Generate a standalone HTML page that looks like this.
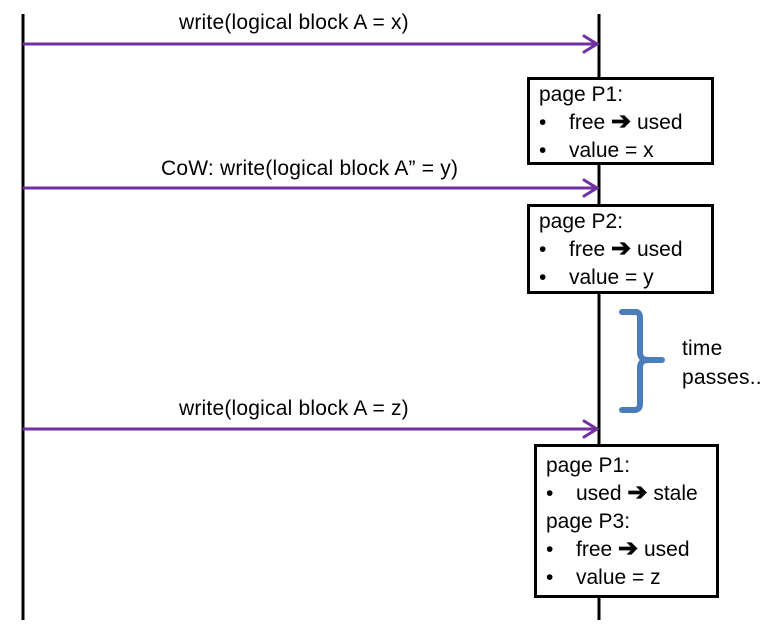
<!DOCTYPE html>
<html><head><style>
body{margin:0;width:762px;height:628px;background:#fff;position:relative;overflow:hidden;font-family:"Liberation Sans",sans-serif;}
svg{position:absolute;left:0;top:0}
.t{position:absolute;font-size:21px;color:#000;white-space:nowrap;letter-spacing:0.2px}
.box{position:absolute;border:3px solid #000;background:#fff;box-sizing:border-box;font-size:21px;line-height:28px;padding:1px 0 0 9px;white-space:nowrap}
.b{display:inline-block;width:30px}
.a{font-size:24px;font-weight:bold;line-height:20px}
</style></head><body>
<svg width="762" height="628">
<line x1="23" y1="14" x2="23" y2="620" stroke="#000" stroke-width="3"/>
<line x1="599" y1="14" x2="599" y2="620" stroke="#000" stroke-width="3"/>
<g stroke="#7030a0" stroke-width="3" fill="none" stroke-linecap="round">
<line x1="24" y1="44" x2="596" y2="44"/><polyline points="584,36 597,44 584,52"/>
<line x1="24" y1="188" x2="596" y2="188"/><polyline points="584,180 597,188 584,196"/>
<line x1="24" y1="429" x2="596" y2="429"/><polyline points="584,421 597,429 584,437"/>
</g>
<path d="M622,312 L636,312 Q640,312 640,318 L640,352 Q640,360 648,360 L662,360 M648,360 Q640,360 640,368 L640,404 Q640,410 634,410 L622,410" stroke="#4a7ebb" stroke-width="6" fill="none" stroke-linecap="round"/>
</svg>
<div class="t" style="left:179px;top:11px">write(logical block A = x)</div>
<div class="t" style="left:161px;top:157px">CoW: write(logical block A” = y)</div>
<div class="t" style="left:179px;top:397px">write(logical block A = z)</div>
<div class="t" style="left:682px;top:334px;line-height:29px">time<br>passes..</div>
<div class="box" style="left:527px;top:77px;width:187px;height:88px">page P1:<br><span class="b">•</span>free <span class="a">➔</span> used<br><span class="b">•</span>value = x</div>
<div class="box" style="left:527px;top:204px;width:187px;height:90px">page P2:<br><span class="b">•</span>free <span class="a">➔</span> used<br><span class="b">•</span>value = y</div>
<div class="box" style="left:534px;top:444px;width:185px;height:154px;padding-top:5px">page P1:<br><span class="b">•</span>used <span class="a">➔</span> stale<br>page P3:<br><span class="b">•</span>free <span class="a">➔</span> used<br><span class="b">•</span>value = z</div>
</body></html>
